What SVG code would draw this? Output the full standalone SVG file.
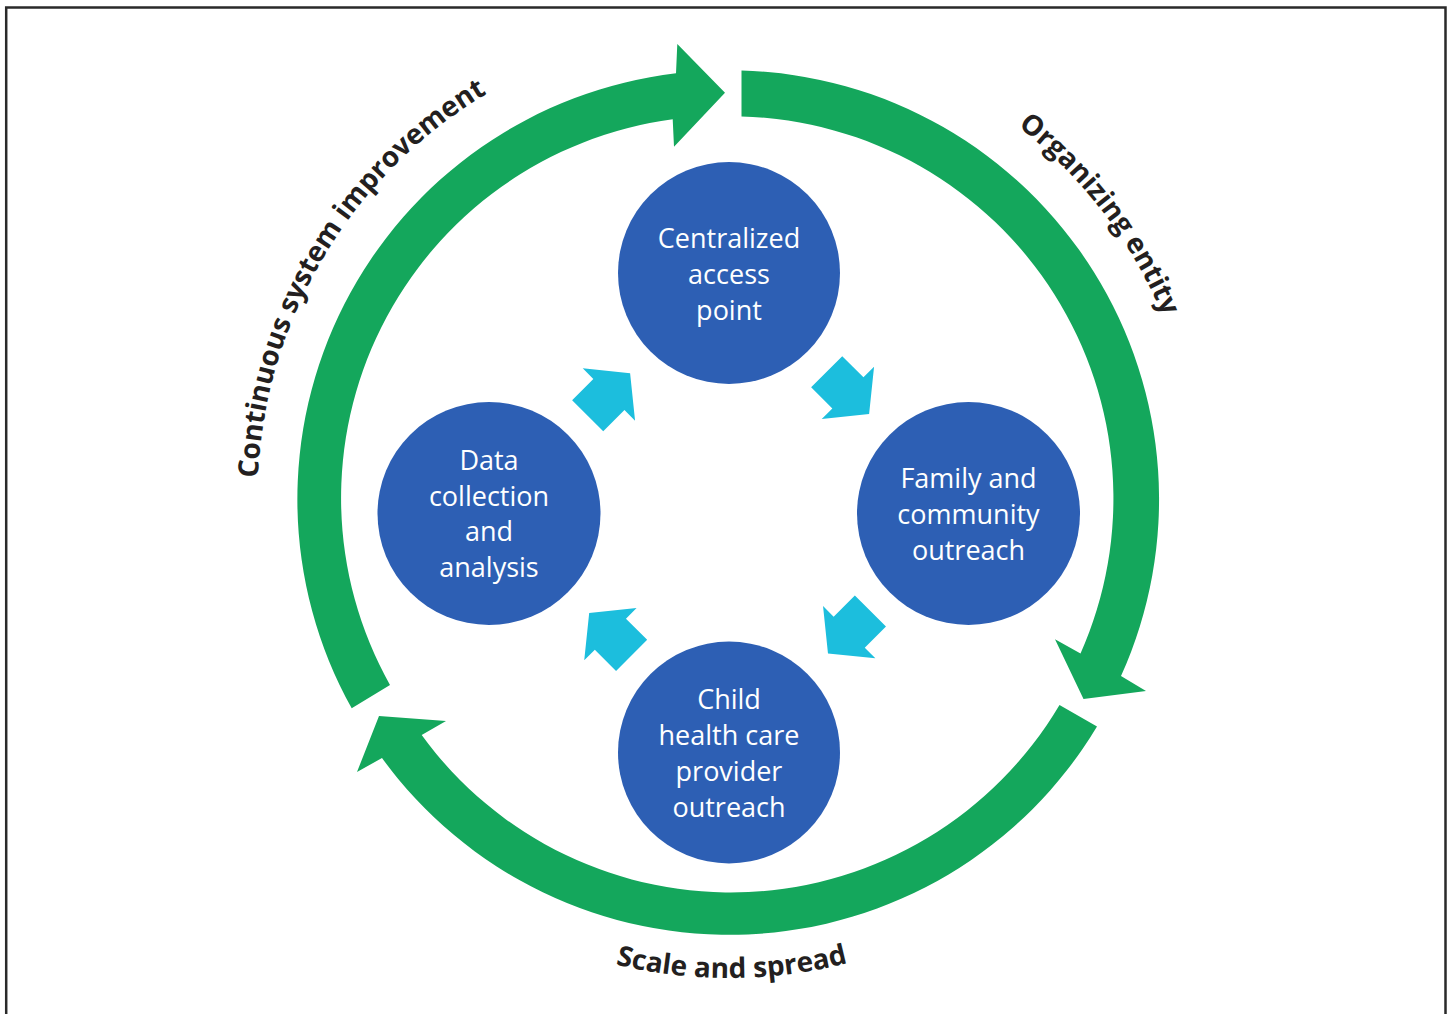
<svg xmlns="http://www.w3.org/2000/svg" xmlns:xlink="http://www.w3.org/1999/xlink" width="1452" height="1014" viewBox="0 0 1452 1014">
<style>
.ring{fill:#14a75c}
.node circle{fill:#2d5fb4}
.node text{fill:#ffffff;font-family:"Open Sans","Noto Sans","DejaVu Sans",sans-serif;font-size:27px;text-anchor:middle}
.lbl{fill:#231f20;font-family:"Open Sans","Noto Sans","DejaVu Sans",sans-serif;font-size:28px;font-weight:bold}
.cy{fill:#1cbedd}
</style>
<defs>
<path id="blk" d="M-30,-22 L0,-22 L0,-37 L30,0 L0,37 L0,22 L-30,22 Z"/>
<path id="pC" d="M317.4,727.8 A471,471 0 0 1 735.1,27.0"/>
<path id="pO" d="M667.8,30.9 A471,471 0 0 1 1163.3,679.0"/>
<path id="pS" d="M314.5,740.9 A480,480 0 0 0 1145.9,735.1"/>
</defs>
<rect width="1452" height="1014" fill="#ffffff"/>
<path d="M6.2,1016 V7.5 H1445.5 V1016" fill="none" stroke="#2a2a2a" stroke-width="2.5"/>
<g id="connectors">
<path id="ring-organizing" class="ring" d="M741.5,70.5 A429,429 0 0 1 1121,676 L1146,691 L1083.5,699 L1055,639.3 L1080.5,653.5 A382,382 0 0 0 741.5,116.5 Z"/>
<path id="ring-scale" class="ring" d="M1097,726.5 A429,429 0 0 1 382,758 L357,772 L379,716 L446,721 L421.7,735 A382,382 0 0 0 1059.5,705 Z"/>
<path id="ring-continuous" class="ring" d="M351.7,708.3 A429,429 0 0 1 676,73.3 L677.3,44 L725,92.7 L674,146.7 L672.7,119.3 A382,382 0 0 0 390,685 Z"/>
<use xlink:href="#blk" class="cy" transform="translate(608.9,394.5) rotate(-45)"/>
<use xlink:href="#blk" class="cy" transform="translate(847.9,392.9) rotate(45)"/>
<use xlink:href="#blk" class="cy" transform="translate(849.2,632.2) rotate(135)"/>
<use xlink:href="#blk" class="cy" transform="translate(610.4,634.2) rotate(225)"/>
</g>
<g id="labels">
<text class="lbl"><textPath xlink:href="#pC" startOffset="50%" text-anchor="middle">Continuous system improvement</textPath></text>
<text class="lbl"><textPath xlink:href="#pO" startOffset="50%" text-anchor="middle">Organizing entity</textPath></text>
<text class="lbl"><textPath xlink:href="#pS" startOffset="50%" text-anchor="middle">Scale and spread</textPath></text>
</g>
<g id="node-centralized" class="node">
<circle cx="729" cy="273" r="111"/>
<text x="729" y="248">Centralized</text>
<text x="729" y="284">access</text>
<text x="729" y="320">point</text>
</g>
<g id="node-family" class="node">
<circle cx="968.5" cy="513.5" r="111.5"/>
<text x="968.5" y="488">Family and</text>
<text x="968.5" y="524">community</text>
<text x="968.5" y="560">outreach</text>
</g>
<g id="node-child" class="node">
<circle cx="729" cy="752.5" r="111"/>
<text x="729" y="709">Child</text>
<text x="729" y="745">health care</text>
<text x="729" y="781">provider</text>
<text x="729" y="817">outreach</text>
</g>
<g id="node-data" class="node">
<circle cx="489" cy="513.5" r="111.5"/>
<text x="489" y="470">Data</text>
<text x="489" y="506">collection</text>
<text x="489" y="541">and</text>
<text x="489" y="577">analysis</text>
</g>
</svg>
